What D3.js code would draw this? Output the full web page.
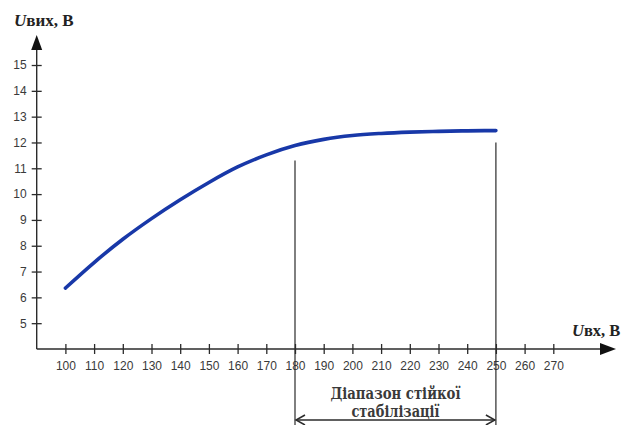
<!DOCTYPE html>
<html>
<head>
<meta charset="utf-8">
<script src="https://cdn.jsdelivr.net/npm/d3@7"></script>
<style>
  body { margin: 0; background: #fff; }
  svg { display: block; }
  .tick text { font-family: "Liberation Sans", Arial, sans-serif; font-size: 12px; fill: #3a3a3a; }
  .lbl { font-family: "Liberation Serif", "DejaVu Serif", serif; font-weight: bold; fill: #222; }
  .rangeText { font-family: "DejaVu Serif", serif; }
</style>
</head>
<body>
<svg id="chart" width="621" height="425"></svg>
<script>
// input voltage, V
const uIn = [100, 110, 120, 130, 140, 150, 160, 170, 180, 190, 200, 210, 220, 230, 240, 250];
// output voltage, V
const uOut = [6.36, 7.35, 8.25, 9.05, 9.78, 10.45, 11.05, 11.52, 11.88, 12.12, 12.27, 12.35, 12.40, 12.43, 12.45, 12.46];

const xTicks = [100, 110, 120, 130, 140, 150, 160, 170, 180, 190, 200, 210, 220, 230, 240, 250, 260, 270];
const yTicks = [5, 6, 7, 8, 9, 10, 11, 12, 13, 14, 15];

// stable range bounds and where their marker lines start
const rangeBounds = [180, 250];
const rangeTops = [11.3, 12.0];
const rangeText = ["Діапазон стійкої", "стабілізації"];

const width = 621, height = 425;
const svg = d3.select("#chart");

const x = d3.scaleLinear().domain([90, 300]).range([36.7, 639.4]);
const y = d3.scaleLinear().domain([4, 16]).range([349, 39.2]);

const ink = "#2b2b2b";

// axes with ticks on both sides
const xAxis = svg.append("g")
  .attr("transform", `translate(0,${y(4)})`)
  .call(d3.axisBottom(x).tickValues(xTicks).tickSize(5).tickPadding(7));
xAxis.select(".domain").remove();
xAxis.selectAll(".tick line").attr("y1", -5).attr("y2", 5).attr("stroke", ink).attr("stroke-width", 1.3);

const yAxis = svg.append("g")
  .attr("transform", `translate(${x(90)},0)`)
  .call(d3.axisLeft(y).tickValues(yTicks).tickSize(5).tickPadding(5));
yAxis.select(".domain").remove();
yAxis.selectAll(".tick line").attr("x1", -5).attr("x2", 5).attr("stroke", ink).attr("stroke-width", 1.3);

// axis lines with arrow heads
svg.append("line")
  .attr("x1", x(90)).attr("x2", 603)
  .attr("y1", y(4)).attr("y2", y(4))
  .attr("stroke", ink).attr("stroke-width", 1.4);
svg.append("path")
  .attr("d", `M600,${y(4) - 6}L616,${y(4)}L600,${y(4) + 6}Z`)
  .attr("fill", "#111");

svg.append("line")
  .attr("x1", x(90)).attr("x2", x(90))
  .attr("y1", y(4)).attr("y2", 48)
  .attr("stroke", ink).attr("stroke-width", 1.4);
svg.append("path")
  .attr("d", `M${x(90) - 5.5},50L${x(90)},35L${x(90) + 5.5},50Z`)
  .attr("fill", "#111");

// axis titles
const yTitle = svg.append("text").attr("class", "lbl")
  .attr("x", 14).attr("y", 26).attr("font-size", 17);
yTitle.append("tspan").attr("font-style", "italic").text("U");
yTitle.append("tspan").text("вих, В");

const xTitle = svg.append("text").attr("class", "lbl")
  .attr("x", 572).attr("y", 336).attr("font-size", 16.5);
xTitle.append("tspan").attr("font-style", "italic").text("U");
xTitle.append("tspan").text("вх, В");

// characteristic curve
const line = d3.line()
  .x(d => x(d[0]))
  .y(d => y(d[1]))
  .curve(d3.curveMonotoneX);

svg.append("path")
  .datum(uIn.map((v, i) => [v, uOut[i]]))
  .attr("d", line)
  .attr("fill", "none")
  .attr("stroke", "#1838a8")
  .attr("stroke-width", 3.6)
  .attr("stroke-linecap", "round");

// stable range markers
svg.selectAll(".bound")
  .data(rangeBounds)
  .join("line")
  .attr("class", "bound")
  .attr("x1", d => x(d)).attr("x2", d => x(d))
  .attr("y1", (d, i) => y(rangeTops[i])).attr("y2", height)
  .attr("stroke", ink).attr("stroke-width", 1.2);

const ay = 420;
const x0 = x(rangeBounds[0]), x1 = x(rangeBounds[1]);
svg.append("line")
  .attr("x1", x0 + 1).attr("x2", x1 - 1)
  .attr("y1", ay).attr("y2", ay)
  .attr("stroke", ink).attr("stroke-width", 1.3);
svg.append("path")
  .attr("d", `M${x0 + 10},${ay - 5}L${x0 + 1},${ay}L${x0 + 10},${ay + 5}M${x1 - 10},${ay - 5}L${x1 - 1},${ay}L${x1 - 10},${ay + 5}`)
  .attr("fill", "none")
  .attr("stroke", ink).attr("stroke-width", 1.5);

const textWidths = [130, 88];
svg.selectAll(".rangeText")
  .data(rangeText)
  .join("text")
  .attr("class", "lbl rangeText")
  .attr("x", (x0 + x1) / 2)
  .attr("y", (d, i) => 399 + i * 18)
  .attr("text-anchor", "middle")
  .attr("font-size", 16)
  .attr("textLength", (d, i) => textWidths[i])
  .attr("lengthAdjust", "spacingAndGlyphs")
  .style("fill", "#3a3a3a")
  .text(d => d);
</script>
</body>
</html>
